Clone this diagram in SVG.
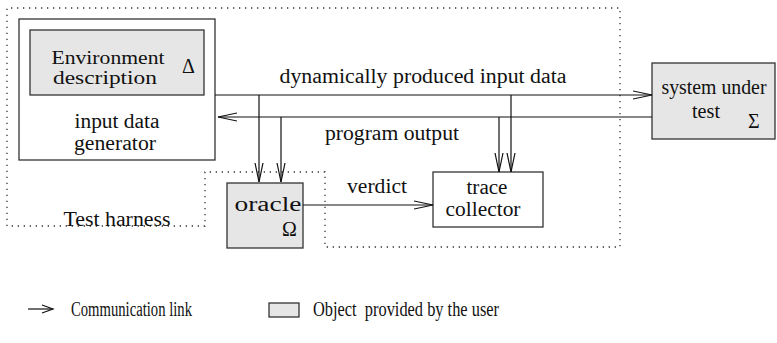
<svg xmlns="http://www.w3.org/2000/svg" width="777" height="343" viewBox="0 0 777 343">
<style>
text{font-family:"Liberation Serif","Times New Roman",serif;font-size:20px;fill:#111}
.m{text-anchor:middle}
.s{font-size:18px}
.box{fill:#fff;stroke:#333;stroke-width:1.3}
.user{fill:#e6e6e6;stroke:#333;stroke-width:1.3}
.dot{fill:none;stroke:#333;stroke-width:1.3;stroke-dasharray:1.3 4.7}
.ln{fill:none;stroke:#111;stroke-width:1.2;marker-end:url(#a)}
</style>
<defs>
<marker id="a" markerUnits="userSpaceOnUse" markerWidth="22" markerHeight="12" refX="19" refY="5" orient="auto" viewBox="0 0 22 12">
<path d="M0,1 L19,5 L0,9" fill="none" stroke="#111" stroke-width="1.2"/>
</marker>
</defs>
<g id="harness">
<path class="dot" d="M205,226 H7 V8 H620 V247 H325 V172 H205 Z"/>
<text x="117" y="226" class="m" textLength="107" lengthAdjust="spacingAndGlyphs">Test harness</text>
</g>
<g id="generator">
<rect class="box" x="19" y="19" width="196" height="141"/>
<text x="117" y="128" class="m" textLength="85" lengthAdjust="spacingAndGlyphs">input data</text>
<text x="115" y="150" class="m" textLength="82" lengthAdjust="spacingAndGlyphs">generator</text>
</g>
<g id="environment">
<rect class="user" x="30" y="30" width="174" height="65"/>
<text x="108" y="64" class="m s" textLength="113" lengthAdjust="spacingAndGlyphs">Environment</text>
<text x="105" y="84" class="m s" textLength="104" lengthAdjust="spacingAndGlyphs">description</text>
<text x="182" y="73">Δ</text>
</g>
<g id="sut">
<rect class="user" x="652" y="63" width="123" height="76"/>
<text x="714" y="94" class="m" textLength="105" lengthAdjust="spacingAndGlyphs">system under</text>
<text x="706" y="118" class="m" textLength="28" lengthAdjust="spacingAndGlyphs">test</text>
<text x="748" y="128">Σ</text>
</g>
<g id="oracle">
<rect class="user" x="227" y="183" width="76" height="65"/>
<text x="268" y="211" class="m" textLength="67" lengthAdjust="spacingAndGlyphs">oracle</text>
<text x="282" y="236">Ω</text>
</g>
<g id="trace">
<rect class="box" x="433" y="172" width="110" height="55"/>
<text x="487" y="194" class="m" textLength="41" lengthAdjust="spacingAndGlyphs">trace</text>
<text x="483" y="216" class="m" textLength="75" lengthAdjust="spacingAndGlyphs">collector</text>
</g>
<g id="connectors">
<path class="ln" d="M215,95 H652"/>
<path class="ln" d="M652,117 H218"/>
<path class="ln" d="M259,95 V182"/>
<path class="ln" d="M281,117 V182"/>
<path class="ln" d="M511,95 V172"/>
<path class="ln" d="M499,117 V172"/>
<path class="ln" d="M303,205 H433"/>
<text x="423" y="83" class="m" textLength="287" lengthAdjust="spacingAndGlyphs">dynamically produced input data</text>
<text x="392" y="140" class="m" textLength="134" lengthAdjust="spacingAndGlyphs">program output</text>
<text x="377" y="193" class="m" textLength="60" lengthAdjust="spacingAndGlyphs">verdict</text>
</g>
<g id="legend">
<path d="M28,309 H53" fill="none" stroke="#111" stroke-width="1.2"/>
<path d="M42,305 L53,309 L42,313" fill="none" stroke="#111" stroke-width="1.2"/>
<text x="71" y="316" textLength="121" lengthAdjust="spacingAndGlyphs">Communication link</text>
<rect class="user" x="269" y="303" width="30" height="14"/>
<text x="313" y="316" textLength="186" lengthAdjust="spacingAndGlyphs">Object&#160; provided by the user</text>
</g>
</svg>
